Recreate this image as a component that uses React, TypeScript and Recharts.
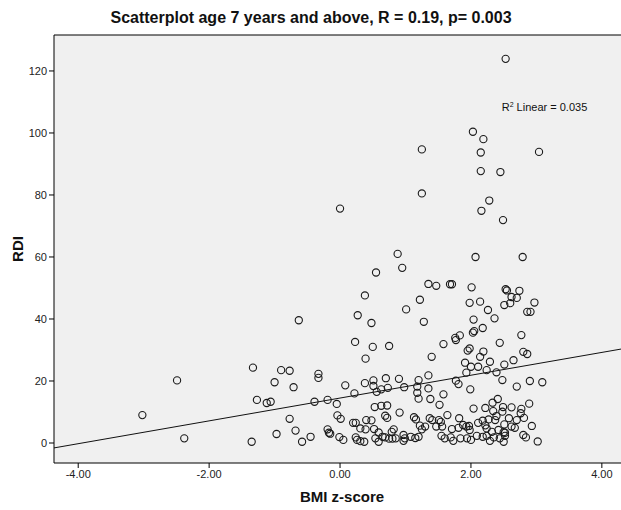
import React from 'react';
import {
  ScatterChart,
  Scatter,
  XAxis,
  YAxis,
  CartesianGrid,
  ReferenceLine,
  ReferenceDot,
} from 'recharts';

// BMI z-score (x) and RDI (y), one point per pair
const bmiZ = [
  -3.02, -2.49, -2.38, -1.33, -1.27, -1.35,
  0.23, 0.5, 0.75, 0.39, -0.9, -0.77, -0.33, -0.33, -1.0, -0.71, 0.08, 0.38, 0.51, 0.7,
  0.9, 0.51, 0.56, 0.63, 0.73, 0.22, -1.12, -1.06, -0.39, -0.19, -0.05, 0.53, 0.63, 0.72,
  0.91, -0.77, -0.04, 0.01, 0.2, 0.24, 0.4, 0.48, 0.69, 0.72, -0.68, -0.97, -0.45, -0.58,
  -0.19, -0.17, -0.15, -0.01, 0.05, 0.31, 0.39, 0.24, 0.26, 0.31, 0.37, 0.52, 0.59, 0.65,
  0.54, 0.59, 0.69, 0.75, 0.8, 0.85, 0.82, 0.79,
  1.25, 0.0, 0.88, 0.95, 0.55, 1.35, 1.47, 1.68, 0.38, 1.22, 1.01, -0.63, 0.27, 0.48, 1.28,
  2.53, 2.03, 2.19, 1.25, 2.15, 3.04, 2.15, 2.45,
  2.28, 2.16, 2.49, 2.07, 2.79, 1.71, 2.01, 2.53, 2.55, 2.74, 2.62, 2.7, 2.97, 1.98, 2.14,
  2.51, 2.6, 2.26, 2.36, 2.04, 2.86, 2.91, 2.18, 2.05, 2.03, 1.83, 1.76, 2.77,
  1.58, 1.77, 1.4, 1.95, 1.98, 2.19, 2.14, 2.44, 1.91, 2.0, 2.11, 2.29, 2.51, 1.93, 2.24,
  2.39, 2.48, 1.35, 1.2, 0.98, 1.18, 1.35, 1.77, 1.81, 1.18, 1.2, 1.38, 1.58, 1.52, 1.99,
  2.04, 2.41, 2.33, 2.22, 2.49, 1.64, 1.82, 2.34, 1.13, 1.16, 1.37, 1.41, 1.51, 1.54, 1.22,
  1.3, 1.47, 1.56, 1.88, 1.97, 2.11, 2.18, 2.22, 2.27, 2.37, 2.39, 2.51, 2.24, 2.32, 1.71,
  1.81, 1.93, 1.98, 1.25, 0.97, 0.99, 1.08, 1.15, 1.2, 0.97, 1.55, 1.6, 1.69, 1.73, 1.84,
  1.94, 2.0, 2.09, 2.18, 2.24, 2.29, 2.35, 2.44, 2.52, 2.5, 2.42,
  2.8, 2.86, 2.65, 2.9, 3.09, 2.7, 2.89, 2.62, 2.77, 2.76, 2.48, 2.81, 2.58, 2.7, 2.93,
  2.62, 2.67, 2.52, 2.8, 2.84, 2.5, 3.02,
];

const rdi = [
  9, 20.2, 1.5, 24.3, 13.9, 0.4,
  32.6, 31, 31.3, 27.2, 23.5, 23.3, 22.3, 21, 19.6, 18, 18.6, 19.3, 20.2, 20.9,
  20.7, 18.4, 16.5, 17.3, 17.8, 16, 12.9, 13.3, 13.3, 13.9, 12.6, 11.6, 12, 12.1,
  9.8, 7.8, 8.9, 7.8, 6.5, 6.5, 7.4, 7.3, 8.8, 8.1, 4, 2.9, 2, 0.4,
  4.4, 3.3, 3, 1.9, 1, 4.7, 4.4, 1.8, 1, 0.6, 0.4, 4.5, 3.4, 2,
  1.5, 0.4, 1.8, 1.4, 1.4, 1.5, 4.4, 3.6,
  80.5, 75.6, 61, 56.5, 55, 51.3, 50.7, 51.2, 47.6, 46.2, 43.1, 39.6, 41.2, 38.7, 39.1,
  123.9, 100.4, 98, 94.7, 93.7, 93.9, 87.7, 87.4,
  78.2, 74.9, 71.9, 60, 60, 51.2, 50.2, 49.6, 49.2, 49.1, 47.1, 46.8, 45.3, 45.2, 45.6,
  44.5, 45.1, 42.9, 40.2, 39.8, 42.3, 42.3, 37.1, 36.1, 35.6, 34.7, 33.9, 34.8,
  31.9, 33.2, 27.8, 29.8, 30.5, 29.5, 27.8, 32.3, 25.9, 24.6, 24.6, 26.2, 25.3, 22.7, 23.5,
  22.8, 20.3, 21.8, 20.3, 18, 18.2, 17.6, 20.1, 19, 16.2, 14.3, 14.2, 15.7, 12.3, 17.3,
  11.1, 14.2, 13, 11.3, 11.6, 9, 8, 10.3, 8.3, 7.6, 8, 7.4, 7.4, 6.8, 5.6,
  5.3, 5.3, 5.3, 5.8, 5.5, 6.5, 7.2, 5.7, 7.6, 7.4, 8.7, 6, 4.7, 3.6, 4.5,
  4.9, 5.3, 4.2, 4.4, 2.6, 1.5, 2, 1.6, 2, 0.7, 2.3, 1.5, 1.8, 0.7, 1.5,
  1.5, 1, 2.3, 2, 2.3, 0.7, 1.8, 1.5, 2.3, 3.5, 4.2,
  29.4, 28.7, 26.7, 20, 19.6, 18.2, 12.7, 11.5, 11, 9.6, 10.1, 8.1, 8, 7.4, 5.5,
  5.3, 4.9, 3.3, 2.6, 1.8, 0.4, 0.5,
];

const xTicks = [-4, -2, 0, 2, 4];
const yTicks = [0, 20, 40, 60, 80, 100, 120];

// linear fit shown in the reference (R² = 0.035)
const fitIntercept = 14.5;
const fitSlope = 3.68;

const X_MIN = -4.37;
const X_MAX = 4.43;
const Y_MIN = -6.45;
const Y_MAX = 131.6;

const points = bmiZ.map((x, i) => ({ x, y: rdi[i] }));
const fitLine = [
  { x: X_MIN, y: fitIntercept + fitSlope * X_MIN },
  { x: X_MAX, y: fitIntercept + fitSlope * X_MAX },
];

const font = '"Liberation Sans", Arial, sans-serif';
const tickStyle = { fill: '#222', fontSize: 11, fontFamily: font };

const OpenCircle = (props: any) => (
  <circle cx={props.cx} cy={props.cy} r={3.6} fill="none" stroke="#1a1a1a" strokeWidth={1.1} />
);

const R2Label = (props: any) => {
  const { viewBox } = props;
  return (
    <text x={viewBox.x} y={viewBox.y} fontSize={11} fontFamily={font} fill="#111">
      R<tspan dy={-4} fontSize={7}>2</tspan>
      <tspan dy={4}> Linear = 0.035</tspan>
    </text>
  );
};

export default function App() {
  return (
    <div
      style={{
        position: 'absolute',
        left: 0,
        top: 0,
        width: 621,
        height: 510,
        overflow: 'hidden',
        background: '#fff',
        fontFamily: font,
      }}
    >
      <div
        style={{
          position: 'absolute',
          left: 0,
          width: 622,
          top: 9,
          textAlign: 'center',
          fontWeight: 'bold',
          fontSize: 16,
          color: '#111',
        }}
      >
        Scatterplot age 7 years and above, R = 0.19, p= 0.003
      </div>
      <ScatterChart width={630} height={510} margin={{ top: 35, right: 0, bottom: 0, left: 0 }}>
        <CartesianGrid fill="#f0f0f0" horizontal={false} vertical={false} />
        <XAxis
          type="number"
          dataKey="x"
          domain={[X_MIN, X_MAX]}
          ticks={xTicks}
          tickFormatter={(v: number) => v.toFixed(2)}
          allowDataOverflow
          height={47}
          tick={tickStyle}
          tickSize={5}
          axisLine={{ stroke: '#000' }}
          tickLine={{ stroke: '#000' }}
          label={{
            value: 'BMI z-score',
            position: 'insideBottom',
            offset: 8,
            style: { fontSize: 15, fontWeight: 'bold', fill: '#111', fontFamily: font },
          }}
        />
        <YAxis
          type="number"
          dataKey="y"
          domain={[Y_MIN, Y_MAX]}
          ticks={yTicks}
          allowDataOverflow
          width={54}
          tick={tickStyle}
          tickSize={5}
          axisLine={{ stroke: '#000' }}
          tickLine={{ stroke: '#000' }}
          label={(p: any) => {
            const vb = p.viewBox;
            const cy = vb.y + vb.height / 2;
            return (
              <text
                x={23}
                y={cy}
                transform={`rotate(-90, 23, ${cy})`}
                textAnchor="middle"
                fontSize={15}
                fontWeight="bold"
                fill="#111"
                fontFamily={font}
              >
                RDI
              </text>
            );
          }}
        />
        <ReferenceLine y={Y_MAX} stroke="#000" />
        <ReferenceLine
          segment={[fitLine[0], fitLine[1]]}
          stroke="#111"
          strokeWidth={1}
        />
        <Scatter data={points} shape={OpenCircle} isAnimationActive={false} />
        <ReferenceDot x={2.47} y={107} r={0} fill="none" stroke="none" label={R2Label} />
      </ScatterChart>
    </div>
  );
}
